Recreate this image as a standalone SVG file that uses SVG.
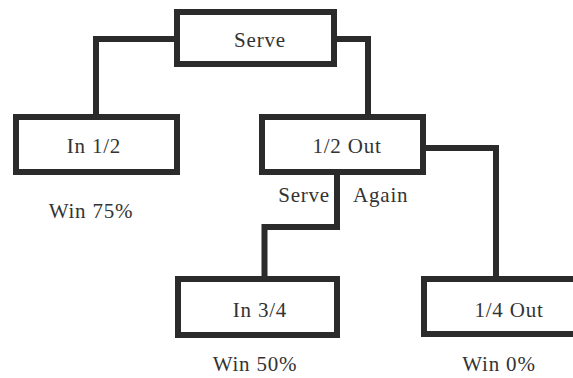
<svg xmlns="http://www.w3.org/2000/svg" width="573" height="378" viewBox="0 0 573 378">
<style>
.box{fill:#fff;stroke:#2b2b2b;stroke-width:6}
.con{fill:none;stroke:#2b2b2b;stroke-width:6;stroke-linejoin:miter}
.t{font-family:'Liberation Serif','DejaVu Serif',serif;font-size:21px;letter-spacing:0.8px;fill:#333}
.c{text-anchor:middle}
</style>
<rect width="573" height="378" fill="#fff"/>
<g id="connectors">
<path class="con" d="M177,39 H96 V117"/>
<path class="con" d="M334,39 H368 V117"/>
<path class="con" d="M423,148 H496 V279"/>
<path class="con" d="M337,172 V227 H264.5 V279"/>
</g>
<g id="serve"><rect class="box" x="177" y="12" width="157" height="52"/><text class="t c" x="260" y="47">Serve</text></g>
<g id="in12"><rect class="box" x="16" y="117" width="161" height="55"/><text class="t c" x="94" y="153">In 1/2</text></g>
<g id="out12"><rect class="box" x="262" y="117" width="161" height="55"/><text class="t c" x="347" y="153">1/2 Out</text></g>
<g id="in34"><rect class="box" x="178" y="279" width="159" height="56"/><text class="t c" x="260" y="317">In 3/4</text></g>
<g id="out14"><rect class="box" x="424" y="279" width="170" height="55"/><text class="t c" x="509" y="317">1/4 Out</text></g>
<g id="labels">
<text class="t" x="330" y="202" text-anchor="end">Serve</text>
<text class="t" x="353" y="202">Again</text>
<text class="t c" x="91" y="218">Win 75%</text>
<text class="t c" x="255" y="371">Win 50%</text>
<text class="t c" x="499" y="371">Win 0%</text>
</g>
</svg>
